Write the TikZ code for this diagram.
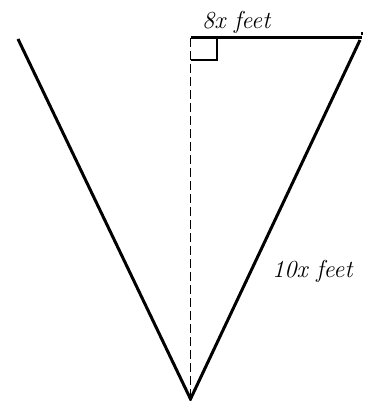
\documentclass[tikz,border=0pt]{standalone}
\begin{document}
\begin{tikzpicture}[x=1pt,y=-1pt,
  thick line/.style={line width=3pt},
  lbl/.style={font=\fontsize{24.5}{28}\selectfont\itshape, inner sep=0pt}]
\useasboundingbox (0,0) rectangle (368,401);
\coordinate (L) at (18,39);
\coordinate (A) at (190.5,399);
\coordinate (T) at (190.5,38);
\coordinate (R) at (362,38);
\coordinate (Rb) at (360,40);
\draw[thick line] (L) -- (A) -- (Rb);
\draw[thick line] (T) -- (R);
\draw[line width=1.5pt] (362,32) -- (362,35);
\draw[line width=1.6pt, dash pattern=on 9pt off 4pt] (T) -- (A);
\draw[line width=1.5pt] (190.5,60) -| (217,38);
\node[lbl, anchor=base west] (top) at (202,29) {8x feet};
\node[lbl, anchor=base west] (side) at (272,277) {10x feet};
\end{tikzpicture}
\end{document}
